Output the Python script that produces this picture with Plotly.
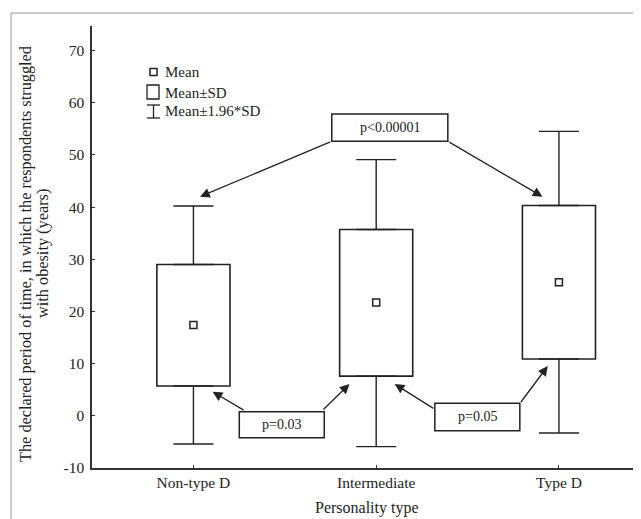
import plotly.graph_objects as go

# ---- data ----
categories = ["Non-type D", "Intermediate", "Type D"]
means = [17.4, 21.7, 25.6]
sd_low = [5.7, 7.6, 10.9]        # Mean - SD
sd_high = [29.0, 35.7, 40.3]     # Mean + SD
ci_low = [-5.4, -5.9, -3.3]      # Mean - 1.96*SD
ci_high = [40.2, 49.1, 54.5]     # Mean + 1.96*SD
y_ticks = [-10, 0, 10, 20, 30, 40, 50, 60, 70]
y_tick_labels = ["-10", "0", "10", "20", "30", "40", "50", "60", "70"]
p_labels = ["p<0.00001", "p=0.03", "p=0.05"]

FONT = "Liberation Serif"
INK = "#222222"
OFF = 8  # page body margin
W, H = 641 - OFF, 519 - OFF
ML, MR, MT, MB = 92 - OFF, 0, 26 - OFF, 51
PW, PH = W - ML - MR, H - MT - MB


def px(xp):
    # page pixel -> paper x
    return (xp - OFF - ML) / PW


def py(yp):
    # page pixel -> paper y
    return (H - MB - (yp - OFF)) / PH


fig = go.Figure()

# Mean±SD boxes
fig.add_trace(go.Bar(
    x=categories,
    y=[h - l for h, l in zip(sd_high, sd_low)],
    base=sd_low,
    width=0.4,
    marker=dict(color="white", line=dict(color=INK, width=1.6)),
    hoverinfo="skip",
))

# upper whiskers
fig.add_trace(go.Scatter(
    x=categories, y=sd_high, mode="markers",
    marker=dict(opacity=0),
    error_y=dict(type="data", symmetric=False,
                 array=[c - s for c, s in zip(ci_high, sd_high)],
                 arrayminus=[0, 0, 0],
                 width=20, thickness=1.4, color=INK),
    hoverinfo="skip",
))
# lower whiskers
fig.add_trace(go.Scatter(
    x=categories, y=sd_low, mode="markers",
    marker=dict(opacity=0),
    error_y=dict(type="data", symmetric=False,
                 array=[0, 0, 0],
                 arrayminus=[s - c for s, c in zip(sd_low, ci_low)],
                 width=20, thickness=1.4, color=INK),
    hoverinfo="skip",
))
# means
fig.add_trace(go.Scatter(
    x=categories, y=means, mode="markers",
    marker=dict(symbol="square-open", size=7, color=INK, line=dict(width=1.5)),
    hoverinfo="skip",
))

shapes = []
annotations = []

# p-value boxes (data coordinates)
p_boxes = [
    (0.757, 1.392, 52.61, 57.84),
    (0.251, 0.716, -4.19, 0.79),
    (1.321, 1.786, -2.85, 2.40),
]
for (x0, x1, y0, y1), lab in zip(p_boxes, p_labels):
    shapes.append(dict(type="rect", xref="x", yref="y", x0=x0, x1=x1, y0=y0, y1=y1,
                       fillcolor="white", line=dict(color=INK, width=1.5), layer="above"))
    annotations.append(dict(xref="x", yref="y", x=(x0 + x1) / 2, y=(y0 + y1) / 2,
                            text=lab, showarrow=False,
                            font=dict(family=FONT, size=14, color=INK)))

# arrows: (tail_x, tail_y, head_x, head_y)
arrows = [
    (0.757, 52.61, 0.036, 41.99),
    (1.392, 52.61, 1.910, 41.99),
    (0.283, 0.92, 0.105, 4.62),
    (0.703, 0.92, 0.854, 6.10),
    (1.321, 1.25, 1.101, 6.10),
    (1.786, 2.36, 1.939, 9.55),
]
for tx, ty, hx, hy in arrows:
    annotations.append(dict(xref="x", yref="y", axref="x", ayref="y",
                            x=hx, y=hy, ax=tx, ay=ty, text="",
                            showarrow=True, arrowhead=2, arrowsize=1.5,
                            arrowwidth=1.3, arrowcolor=INK,
                            standoff=0, startstandoff=0))

# legend (manual)
shapes.append(dict(type="rect", xref="paper", yref="paper",
                   x0=px(150), x1=px(157), y0=py(75.5), y1=py(68.5),
                   line=dict(color=INK, width=1.5), fillcolor="white"))
shapes.append(dict(type="rect", xref="paper", yref="paper",
                   x0=px(147), x1=px(159), y0=py(99), y1=py(85),
                   line=dict(color=INK, width=1.3), fillcolor="white"))
shapes.append(dict(type="line", xref="paper", yref="paper",
                   x0=px(153.5), x1=px(153.5), y0=py(118), y1=py(105),
                   line=dict(color=INK, width=1.3)))
shapes.append(dict(type="line", xref="paper", yref="paper",
                   x0=px(147), x1=px(160), y0=py(105), y1=py(105),
                   line=dict(color=INK, width=1.3)))
shapes.append(dict(type="line", xref="paper", yref="paper",
                   x0=px(147), x1=px(160), y0=py(118), y1=py(118),
                   line=dict(color=INK, width=1.3)))
for lab, yy in [("Mean", 72), ("Mean±SD", 92.5), ("Mean±1.96*SD", 111.5)]:
    annotations.append(dict(xref="paper", yref="paper", x=px(163), y=py(yy),
                            xanchor="left", yanchor="middle", text=lab,
                            showarrow=False,
                            font=dict(family=FONT, size=15, color=INK)))

# outer grey frame
shapes.append(dict(type="rect", xref="paper", yref="paper",
                   x0=px(11), x1=px(660), y0=py(540), y1=py(13),
                   line=dict(color="#999999", width=1), fillcolor="rgba(0,0,0,0)",
                   layer="below"))

# axis titles
annotations.append(dict(xref="paper", yref="paper", x=px(26), y=py(254),
                        text="The declared period of time, in which the respondents struggled",
                        textangle=-90, showarrow=False, xanchor="center", yanchor="middle",
                        font=dict(family=FONT, size=16.3, color=INK)))
annotations.append(dict(xref="paper", yref="paper", x=px(43), y=py(254),
                        text="with obesity (years)",
                        textangle=-90, showarrow=False, xanchor="center", yanchor="middle",
                        font=dict(family=FONT, size=16.3, color=INK)))
annotations.append(dict(xref="paper", yref="paper", x=px(366.5), y=py(508),
                        text="Personality type", showarrow=False,
                        xanchor="center", yanchor="middle",
                        font=dict(family=FONT, size=16, color=INK)))

fig.update_layout(
    width=W, height=H,
    margin=dict(l=ML, r=MR, t=MT, b=MB),
    paper_bgcolor="white", plot_bgcolor="white",
    showlegend=False,
    shapes=shapes, annotations=annotations,
    font=dict(family=FONT, size=15, color=INK),
    xaxis=dict(type="category", categoryorder="array", categoryarray=categories,
               range=[-0.555, 2.449], showline=True, linecolor="#333333", linewidth=1.5,
               ticks="inside", ticklen=3, tickcolor="#333333", showgrid=False,
               zeroline=False, tickfont=dict(family=FONT, size=15.5, color=INK),
               fixedrange=True),
    yaxis=dict(range=[-10, 74.7], tickvals=y_ticks, ticktext=y_tick_labels,
               showline=True, linecolor="#333333",
               linewidth=1.5, ticks="inside", ticklen=3, tickcolor="#333333",
               showgrid=False, zeroline=False, ticklabelstandoff=3,
               tickfont=dict(family=FONT, size=15.5, color=INK), fixedrange=True),
)

fig.write_html("out.html")
